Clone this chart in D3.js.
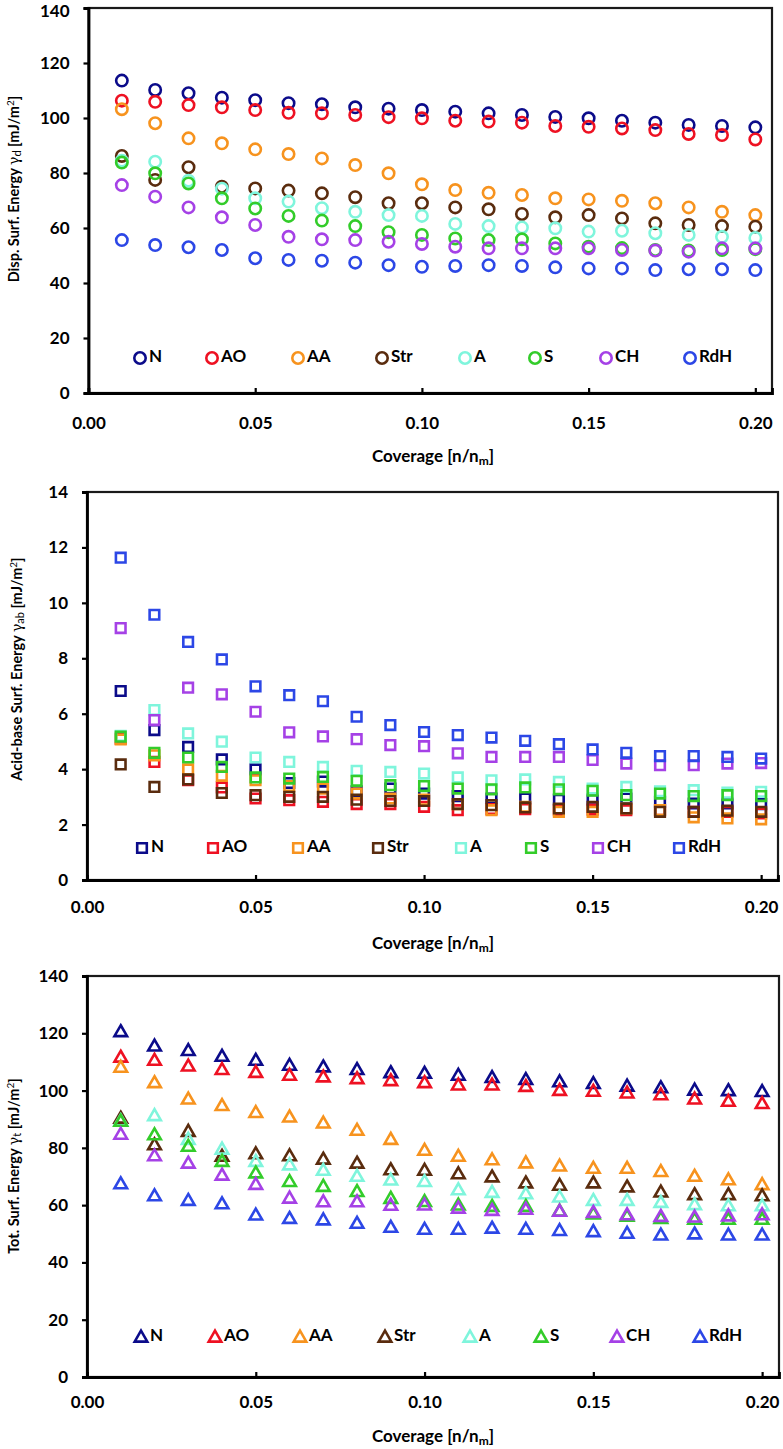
<!DOCTYPE html>
<html>
<head>
<meta charset="utf-8">
<script src="https://cdn.jsdelivr.net/npm/d3@7/dist/d3.min.js"></script>
<style>
  html, body { margin: 0; padding: 0; background: #fff; }
  svg { display: block; }
  text { font-family: Lato, "Open Sans", sans-serif; font-weight: bold; fill: #000; }
</style>
</head>
<body>
<svg id="chart" width="783" height="1449"></svg>
<script>
// ---------------- DATA ----------------
const coverage = [0.01,0.02,0.03,0.04,0.05,0.06,0.07,0.08,0.09,0.10,0.11,0.12,0.13,0.14,0.15,0.16,0.17,0.18,0.19,0.20];
const seriesNames = ["N","AO","AA","Str","A","S","CH","RdH"];
const seriesColors = ["#0b0b8a","#ee1122","#f7931e","#5a2c0e","#7ff5dc","#33cc2a","#a541e6","#2c47e6"];
const xTicks = [0.00,0.05,0.10,0.15,0.20];
const yTicksDisp = [0,20,40,60,80,100,120,140];
const yTicksAb = [0,2,4,6,8,10,12,14];
const yTicksTot = [0,20,40,60,80,100,120,140];

// Dispersive surface energy gamma_d [mJ/m2]
const dispN   = [113.6,110.2,109.0,107.4,106.5,105.4,105.0,103.9,103.4,102.9,102.3,101.7,101.1,100.4,99.9,99.0,98.3,97.5,97.1,96.6];
const dispAO  = [106.3,105.9,104.7,103.9,102.9,101.9,101.7,101.1,100.3,99.9,99.0,98.7,98.3,97.1,96.8,96.2,95.6,94.2,93.8,92.2];
const dispAA  = [103.2,98.1,92.6,90.8,88.6,86.9,85.3,82.9,79.9,75.9,73.8,72.8,72.0,70.8,70.4,69.9,69.0,67.5,65.9,64.7];
const dispStr = [86.2,77.5,82.1,75.0,74.4,73.6,72.6,71.2,69.0,69.0,67.5,66.8,65.1,63.9,64.7,63.5,61.7,61.1,60.7,60.5];
const dispA   = [84.5,84.1,77.2,74.3,70.8,69.6,67.2,65.9,64.7,64.4,61.5,60.7,60.2,59.9,58.7,59.0,58.1,57.5,56.8,56.4];
const dispS   = [83.8,79.9,76.2,70.8,67.1,64.4,62.7,60.7,58.5,57.5,56.2,55.6,55.9,54.4,53.2,52.7,52.0,51.8,52.0,52.3];
const dispCH  = [75.6,71.4,67.5,63.9,61.1,56.8,55.9,55.6,55.0,54.2,53.2,52.6,52.6,52.6,52.6,52.0,51.8,51.4,52.6,52.6];
const dispRdH = [55.6,53.8,53.0,52.0,49.0,48.4,48.1,47.4,46.5,45.9,46.2,46.5,46.2,45.7,45.3,45.3,44.7,45.0,45.0,44.7];

// Acid-base surface energy gamma_ab [mJ/m2]
const abN   = [6.82,5.41,4.80,4.35,3.99,3.50,3.55,3.20,3.30,3.12,3.03,2.94,2.94,2.90,2.90,2.94,2.82,2.76,2.76,2.74];
const abAO  = [5.10,4.26,3.60,3.34,2.94,2.88,2.82,2.74,2.74,2.64,2.52,2.56,2.56,2.52,2.54,2.52,2.52,2.46,2.46,2.40];
const abAA  = [5.07,4.50,3.99,3.76,3.60,3.39,3.30,3.12,2.94,2.90,2.74,2.52,2.64,2.46,2.46,2.58,2.52,2.26,2.22,2.19];
const abStr = [4.17,3.36,3.63,3.14,3.06,3.00,3.00,2.90,2.85,2.85,2.74,2.70,2.62,2.58,2.64,2.58,2.46,2.46,2.50,2.46];
const abA   = [5.20,6.13,5.29,4.99,4.42,4.26,4.08,3.94,3.90,3.84,3.70,3.60,3.63,3.54,3.30,3.36,3.20,3.24,3.15,3.18];
const abS   = [5.17,4.59,4.42,4.08,3.70,3.66,3.72,3.58,3.42,3.39,3.30,3.27,3.34,3.27,3.22,3.06,3.12,3.03,3.06,3.03];
const abCH  = [9.09,5.77,6.94,6.70,6.07,5.33,5.18,5.08,4.87,4.83,4.57,4.44,4.44,4.44,4.33,4.20,4.14,4.14,4.20,4.22];
const abRdH = [11.63,9.57,8.59,7.96,6.99,6.67,6.45,5.89,5.59,5.34,5.23,5.14,5.02,4.90,4.71,4.59,4.47,4.47,4.44,4.38];

// Total surface energy gamma_t [mJ/m2]
const totN   = [120.6,115.6,114.0,112.0,110.6,108.9,108.3,107.4,106.3,106.1,105.4,104.6,103.9,103.1,102.5,101.6,101.0,100.2,100.0,99.7];
const totAO  = [111.7,110.6,108.6,107.4,106.4,105.4,104.8,104.2,103.5,102.8,102.0,102.0,101.5,100.1,99.8,99.2,98.6,97.1,96.3,95.5];
const totAA  = [108.2,102.8,97.1,94.8,92.4,90.8,88.7,86.2,83.0,79.2,77.1,75.9,74.8,73.7,72.9,72.9,71.8,70.1,68.9,67.2];
const totStr = [90.4,81.1,85.8,77.1,78.0,77.3,76.1,74.7,72.4,72.2,71.0,69.9,67.8,67.0,67.8,66.4,64.6,63.7,63.7,63.3];
const totA   = [89.5,91.3,83.0,79.6,75.3,74.1,72.2,70.1,68.8,68.3,65.4,64.5,64.0,62.9,61.7,61.7,61.0,60.2,59.8,59.8];
const totS   = [89.3,84.6,80.6,75.3,71.3,68.3,66.6,64.8,62.4,61.3,60.1,59.6,59.6,58.0,57.0,56.2,55.4,55.1,55.1,55.1];
const totCH  = [84.8,77.3,74.7,70.5,67.3,62.5,61.2,61.2,60.0,60.1,59.0,58.2,58.6,57.9,57.5,56.7,56.1,55.9,56.3,56.7];
const totRdH = [67.5,63.3,61.7,60.5,56.6,55.4,54.9,53.7,52.3,51.6,51.6,52.0,51.6,51.2,50.8,50.2,49.6,50.0,49.6,49.6];

// ---------------- LAYOUT ----------------
const svg = d3.select("#chart");

const panels = [
  { left: 88.5, right: 772, top: 8, bottom: 393, ymax: 140, yTicks: yTicksDisp,
    series: [dispN,dispAO,dispAA,dispStr,dispA,dispS,dispCH,dispRdH], marker: "circle",
    yTitle: ["Disp. Surf. Energy ", "d"], yTitleX: 15, yTitleY: 189,
    xLabelDy: 30, xTitleY: 458,
    legendY: 358, legendX: [140,212,298,382,465,535,606,690] },
  { left: 87, right: 778, top: 492, bottom: 880, ymax: 14, yTicks: yTicksAb,
    series: [abN,abAO,abAA,abStr,abA,abS,abCH,abRdH], marker: "square",
    yTitle: ["Acid-base Surf. Energy ", "ab"], yTitleX: 18, yTitleY: 669,
    xLabelDy: 27, xTitleY: 945,
    legendY: 848, legendX: [142,213,298,378,461,531,598,679] },
  { left: 87, right: 779, top: 976, bottom: 1377, ymax: 140, yTicks: yTicksTot,
    series: [totN,totAO,totAA,totStr,totA,totS,totCH,totRdH], marker: "triangle",
    yTitle: ["Tot. Surf. Energy ", "t"], yTitleX: 15, yTitleY: 1166,
    xLabelDy: 25, xTitleY: 1438,
    legendY: 1337, legendX: [141,215,300,385,470,541,617,700] }
];

function markerPath(type) {
  if (type === "circle") {
    const r = 5.7;
    return `M${r},0A${r},${r} 0 1,1 ${-r},0A${r},${r} 0 1,1 ${r},0Z`;
  }
  if (type === "square") {
    const h = 4.8;
    return `M${-h},${-h}H${h}V${h}H${-h}Z`;
  }
  // triangle
  return "M0,-6.3L6.3,4.6L-6.3,4.6Z";
}

panels.forEach((p, pi) => {
  const g = svg.append("g");
  const x = d3.scaleLinear().domain([0, 0.205]).range([p.left, p.right]);
  const y = d3.scaleLinear().domain([0, p.ymax]).range([p.bottom, p.top]);

  // frame (top/right)
  g.append("rect")
    .attr("x", p.left).attr("y", p.top)
    .attr("width", p.right - p.left).attr("height", p.bottom - p.top)
    .attr("fill", "none").attr("stroke", "#1a1a1a").attr("stroke-width", 2.2);

  // Y axis
  const yAxis = d3.axisLeft(y).tickValues(p.yTicks).tickSize(5).tickPadding(14)
    .tickFormat(d3.format("d"));
  const ya = g.append("g").attr("transform", `translate(${p.left},0)`).call(yAxis);
  ya.select(".domain").attr("stroke", "#000").attr("stroke-width", 2.8);
  ya.selectAll(".tick line").attr("stroke", "#000").attr("stroke-width", 2.2);
  ya.selectAll(".tick text").style("font-size", "17px").style("font-family", "Lato, sans-serif")
    .style("font-weight", "bold").attr("fill", "#000")
    .attr("dy", (d) => (pi === 0 && d === p.ymax) ? "0.5em" : "0.32em");

  // X axis (inward ticks)
  const xAxis = d3.axisBottom(x).tickValues(xTicks).tickSize(-5).tickPadding(0)
    .tickFormat(d3.format(".2f"));
  const xa = g.append("g").attr("transform", `translate(0,${p.bottom})`).call(xAxis);
  xa.select(".domain").attr("stroke", "#000").attr("stroke-width", 2.8);
  xa.selectAll(".tick line").attr("stroke", "#000").attr("stroke-width", 2.2);
  xa.selectAll(".tick text").style("font-size", "17px").style("font-family", "Lato, sans-serif")
    .style("font-weight", "bold").attr("fill", "#000")
    .attr("y", p.xLabelDy).attr("dy", "0.35em");

  // Y title
  const yt = g.append("text")
    .attr("transform", `translate(${p.yTitleX},${p.yTitleY}) rotate(-90)`)
    .attr("text-anchor", "middle").attr("dominant-baseline", "middle")
    .style("font-size", "14.5px");
  yt.append("tspan").text(p.yTitle[0]);
  yt.append("tspan").text("\u03B3").style("font-weight", "normal").style("font-family", "DejaVu Serif, serif").style("font-size", "14px");
  yt.append("tspan").text(p.yTitle[1]).attr("baseline-shift", "-25%").style("font-size", "11px").style("font-weight", "normal");
  yt.append("tspan").text(" [mJ/m");
  yt.append("tspan").text("2").attr("baseline-shift", "40%").style("font-size", "10px").style("font-weight", "normal");
  yt.append("tspan").text("]");

  // X title
  const xt = g.append("text")
    .attr("x", 433).attr("y", p.xTitleY)
    .attr("text-anchor", "middle").attr("dominant-baseline", "middle")
    .style("font-size", "17px");
  xt.append("tspan").text("Coverage [n/n");
  xt.append("tspan").text("m").attr("baseline-shift", "-30%").style("font-size", "12px");
  xt.append("tspan").text("]");

  // Series markers
  p.series.forEach((vals, si) => {
    g.append("g").selectAll("path").data(vals).join("path")
      .attr("d", markerPath(p.marker))
      .attr("transform", (v, i) => `translate(${x(coverage[i])},${y(v)})`)
      .attr("fill", "none")
      .attr("stroke", seriesColors[si])
      .attr("stroke-width", 2.6);
  });

  // Legend
  const lg = g.append("g");
  seriesNames.forEach((name, si) => {
    lg.append("path")
      .attr("d", markerPath(p.marker))
      .attr("transform", `translate(${p.legendX[si]},${p.legendY})`)
      .attr("fill", "none").attr("stroke", seriesColors[si]).attr("stroke-width", 2.6);
    lg.append("text")
      .attr("x", p.legendX[si] + 9).attr("y", p.legendY)
      .attr("dominant-baseline", "middle")
      .style("font-size", "17px")
      .text(name);
  });
});
</script>
</body>
</html>
